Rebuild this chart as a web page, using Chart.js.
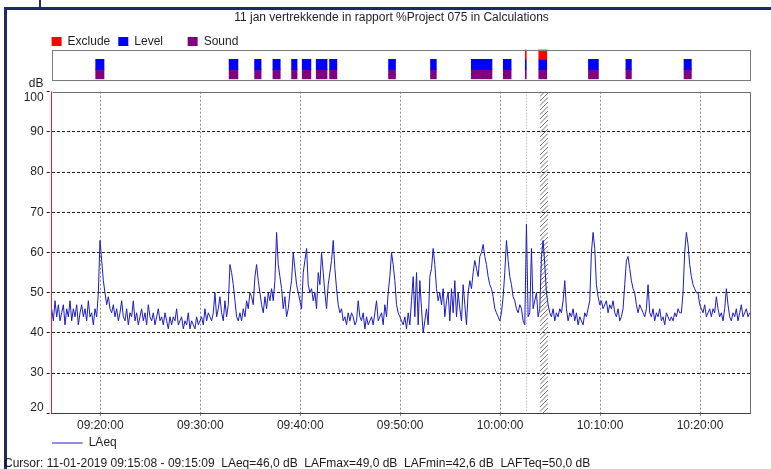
<!DOCTYPE html>
<html>
<head>
<meta charset="utf-8">
<script src="https://cdn.jsdelivr.net/npm/chart.js@4.4.0/dist/chart.umd.min.js"></script>
<style>
html,body{margin:0;padding:0;background:#fff;width:771px;height:469px;overflow:hidden;font-family:"Liberation Sans",Arial,sans-serif;}
#wrap{position:relative;width:771px;height:469px;}
canvas{position:absolute;left:0;top:0;}
#frameTop{position:absolute;left:4px;top:7px;width:767px;height:3px;background:#1d2b5e;}
#frameLeft{position:absolute;left:4px;top:7px;width:3px;height:462px;background:#1d2b5e;}
#frameTick{position:absolute;left:39px;top:0px;width:2px;height:8px;background:#1d2b5e;}
#cursor{position:absolute;left:4px;top:456px;font-size:12px;line-height:14px;color:#1a1a1a;white-space:pre;}
</style>
</head>
<body>
<div id="wrap">
  <div id="frameTop"></div>
  <div id="frameLeft"></div>
  <div id="frameTick"></div>
  <canvas id="band" width="771" height="469"></canvas>
  <canvas id="main" width="771" height="469"></canvas>
  <div id="cursor">Cursor: 11-01-2019 09:15:08 - 09:15:09  LAeq=46,0 dB  LAFmax=49,0 dB  LAFmin=42,6 dB  LAFTeq=50,0 dB</div>
</div>
<script>
// ---------- data ----------
const chartTitle = '11 jan vertrekkende in rapport %Project 075 in Calculations';
const startTime = '09:15:08';
const stepSeconds = 10;
const xMin = '09:15:08';
const xMax = '10:25:00';
const xTickLabels = ['09:20:00','09:30:00','09:40:00','09:50:00','10:00:00','10:10:00','10:20:00'];
const yTicks = [20,30,40,50,60,70,80,90,100];

// LAeq, one row per minute (xx:08, :18, :28, :38, :48, :58)
const laeq = [
  46,43,48,44,47,43, // 09:15
  45,47,42,46,44,48, // 09:16
  43,46,44,47,42,45, // 09:17
  47,44,46,43,48,44, // 09:18
  45,42,46,44,50,63, // 09:19
  58,53,50,47,49,46, // 09:20
  45,47,44,46,43,45, // 09:21
  48,44,43,46,42,45, // 09:22
  44,48,43,45,42,44, // 09:23
  46,43,45,42,47,44, // 09:24
  43,45,42,44,46,43, // 09:25
  44,42,45,43,41,44, // 09:26
  42,44,43,46,42,43, // 09:27
  44,41,43,42,45,41, // 09:28
  43,42,41,44,42,43, // 09:29
  44,42,46,43,45,44, // 09:30
  43,45,50,44,46,49, // 09:31
  45,43,48,44,47,57, // 09:32
  55,52,48,44,43,45, // 09:33
  43,46,44,48,46,50, // 09:34
  49,47,54,57,53,50, // 09:35
  47,45,49,46,50,48, // 09:36
  51,48,53,65,57,54, // 09:37
  51,46,49,44,46,50, // 09:38
  53,60,56,52,50,48, // 09:39
  46,55,58,61,52,50, // 09:40
  51,48,50,46,55,52, // 09:41
  60,55,50,46,52,55, // 09:42
  58,63,56,51,47,45, // 09:43
  46,43,44,42,45,43, // 09:44
  45,44,42,43,48,44, // 09:45
  43,45,41,44,42,43, // 09:46
  44,42,45,48,43,44, // 09:47
  45,42,47,44,50,54, // 09:48
  60,57,53,47,45,44, // 09:49
  43,42,44,41,45,42, // 09:50
  48,54,44,55,42,53, // 09:51
  46,40,43,46,42,54, // 09:52
  56,61,57,51,48,50, // 09:53
  47,51,44,48,50,43, // 09:54
  51,45,53,44,50,46, // 09:55
  43,52,47,42,50,53, // 09:56
  51,55,58,56,54,59, // 09:57
  60,62,59,57,54,52, // 09:58
  51,49,46,45,44,43, // 09:59
  45,49,55,63,58,54, // 10:00
  52,49,48,46,45,47, // 10:01
  46,43,42,67,44,45, // 10:02
  61,46,48,50,44,46, // 10:03
  59,63,57,50,47,45, // 10:04
  44,46,43,45,44,46, // 10:05
  45,48,53,46,43,45, // 10:06
  44,46,43,45,42,44, // 10:07
  43,42,45,44,46,48, // 10:08
  60,65,61,52,49,47, // 10:09
  48,46,47,48,45,47, // 10:10
  46,48,45,44,46,43, // 10:11
  44,46,52,58,59,56, // 10:12
  53,51,50,47,45,47, // 10:13
  46,45,44,46,52,45, // 10:14
  44,46,43,45,44,46, // 10:15
  43,44,42,45,44,43, // 10:16
  44,43,45,44,46,45, // 10:17
  45,50,60,65,62,57, // 10:18
  54,52,51,50,50,47, // 10:19
  46,45,47,44,45,46, // 10:20
  44,46,45,49,46,44, // 10:21
  45,43,46,51,47,44, // 10:22
  43,45,44,46,43,45, // 10:23
  47,44,45,46,44,45  // 10:24
];

const seriesLabels = ['Exclude','Level','Sound'];
const excludeIntervals = [['10:02:31','10:02:37'],['10:03:52','10:04:40']];
const levelIntervals = [
  ['09:19:32','09:20:22'],['09:32:53','09:33:46'],['09:35:26','09:36:05'],['09:37:16','09:38:00'],
  ['09:39:08','09:39:41'],['09:40:12','09:41:04'],['09:41:36','09:42:41'],['09:42:56','09:43:40'],
  ['09:48:50','09:49:32'],['09:53:02','09:53:37'],['09:57:07','09:59:11'],['10:00:19','10:01:06'],
  ['10:02:31','10:02:37'],['10:03:52','10:04:40'],['10:08:50','10:09:50'],['10:12:35','10:13:08'],
  ['10:18:24','10:19:08']
];
const soundIntervals = [
  ['09:19:32','09:20:22'],['09:32:53','09:33:46'],['09:35:26','09:36:05'],['09:37:16','09:38:00'],
  ['09:39:08','09:39:41'],['09:40:12','09:41:04'],['09:41:36','09:42:41'],['09:42:56','09:43:40'],
  ['09:48:50','09:49:32'],['09:53:02','09:53:37'],['09:57:07','09:59:11'],['10:00:19','10:01:06'],
  ['10:02:31','10:02:37'],['10:03:52','10:04:40'],['10:08:50','10:09:50'],['10:12:35','10:13:08'],
  ['10:18:24','10:19:08']
];
const hatchInterval = ['10:03:58','10:04:48'];
const cursorMark = '10:02:34';

// ---------- helpers ----------
const FONT = '"Liberation Sans", Arial, sans-serif';
const TXT = '#1e1e1e';
function sec(s){ const p = s.split(':').map(Number); return p[0]*3600 + p[1]*60 + p[2]; }
const t0 = sec(startTime);
const points = laeq.map((v,i) => ({x: t0 + i*stepSeconds, y: v}));
function bars(intervals, row){ return intervals.map(iv => ({x:[sec(iv[0]), sec(iv[1])], y: row})); }
const yMin = yTicks[0], yMax = yTicks[yTicks.length - 1];

// ---------- band chart ----------
const bandFrame = {
  id:'bandFrame',
  afterDatasetsDraw(chart){
    const {ctx, chartArea:a} = chart;
    ctx.save();
    ctx.strokeStyle = '#7a7a7a'; ctx.lineWidth = 1;
    ctx.strokeRect(Math.round(a.left)+0.5, Math.round(a.top)+0.5, Math.round(a.right-a.left), Math.round(a.bottom-a.top));
    ctx.restore();
  }
};
const barCommon = {borderWidth:0, grouped:false, barPercentage:1, categoryPercentage:1};
new Chart(document.getElementById('band'), {
  type:'bar',
  data:{
    labels: seriesLabels,
    datasets:[
      Object.assign({label:seriesLabels[0], data:bars(excludeIntervals, seriesLabels[0]), backgroundColor:'#ff0000'}, barCommon),
      Object.assign({label:seriesLabels[1], data:bars(levelIntervals, seriesLabels[1]), backgroundColor:'#0000ff'}, barCommon),
      Object.assign({label:seriesLabels[2], data:bars(soundIntervals, seriesLabels[2]), backgroundColor:'#800080'}, barCommon)
    ]
  },
  options:{
    indexAxis:'y', responsive:false, animation:false, devicePixelRatio:1,
    layout:{padding:{left:43.6, right:21, top:27.5, bottom:389.7}},
    plugins:{
      title:{display:false},
      tooltip:{enabled:false},
      legend:{
        display:true, position:'top', align:'start', maxHeight:22,
        labels:{
          boxWidth:10, boxHeight:9, padding:8, color:TXT, font:{family:FONT, size:12},
          generateLabels:(chart) => Chart.defaults.plugins.legend.labels.generateLabels(chart).map(it => {
            if (it.text === 'Level') it.text = 'Level\u00a0\u00a0\u00a0\u00a0\u00a0';
            return it;
          })
        }
      }
    },
    scales:{
      x:{type:'linear', display:false, min:sec(xMin), max:sec(xMax)},
      y:{type:'category', display:true, offset:true, ticks:{display:false}, grid:{display:false}, border:{display:false},
         afterFit:(s) => { s.width = 8.1; }}
    }
  },
  plugins:[bandFrame]
});

// ---------- main chart ----------
const mainDecor = {
  id:'mainDecor',
  beforeDatasetsDraw(chart){
    const {ctx, chartArea:a, scales:{x}} = chart;
    const x1 = x.getPixelForValue(sec(hatchInterval[0]));
    const x2 = x.getPixelForValue(sec(hatchInterval[1]));
    const w = x2 - x1;
    ctx.save();
    ctx.beginPath(); ctx.rect(x1, a.top, w, a.bottom - a.top); ctx.clip();
    ctx.strokeStyle = '#606060'; ctx.lineWidth = 0.9;
    ctx.beginPath();
    for (let yy = a.top - 4; yy < a.bottom + w + 8; yy += 4.5) { ctx.moveTo(x1, yy); ctx.lineTo(x2, yy - w); }
    ctx.stroke();
    ctx.restore();
    const cx = Math.round(x.getPixelForValue(sec(cursorMark))) + 0.5;
    ctx.save();
    ctx.strokeStyle = '#a0a0a0'; ctx.lineWidth = 1; ctx.setLineDash([1,2]);
    ctx.beginPath(); ctx.moveTo(cx, a.top); ctx.lineTo(cx, a.bottom); ctx.stroke();
    ctx.restore();
  },
  afterDraw(chart){
    const {ctx, chartArea:a} = chart;
    ctx.save();
    ctx.strokeStyle = '#6e6e6e'; ctx.lineWidth = 1;
    const ty = Math.round(a.top) + 0.5, rx = Math.round(a.right) + 0.5;
    ctx.beginPath(); ctx.moveTo(a.left + 1, ty); ctx.lineTo(rx, ty); ctx.lineTo(rx, a.bottom); ctx.stroke();
    // red cursor line at the left edge
    const lx = Math.round(a.left) - 0.5;
    ctx.strokeStyle = '#e02828';
    ctx.beginPath(); ctx.moveTo(lx, a.top); ctx.lineTo(lx, a.bottom); ctx.stroke();
    ctx.fillStyle = TXT; ctx.font = '12px ' + FONT; ctx.textAlign = 'right'; ctx.textBaseline = 'middle';
    ctx.fillText('dB', a.left - 8.2, a.top - 7.7);
    ctx.restore();
  }
};

new Chart(document.getElementById('main'), {
  type:'line',
  data:{datasets:[{
    label:'LAeq', data:points, borderColor:'#1c1cc4', backgroundColor:'#1c1cc4',
    borderWidth:1, pointRadius:0, tension:0, fill:false, yAxisID:'y'
  }]},
  options:{
    responsive:false, animation:false, devicePixelRatio:1,
    layout:{padding:{left:19.7, right:7.7, top:0, bottom:10}},
    plugins:{
      tooltip:{enabled:false},
      title:{display:true, text:chartTitle, color:TXT, font:{family:FONT, size:12, weight:'normal'}, padding:{top:10, bottom:67.3}},
      legend:{display:true, position:'bottom', align:'start', fullSize:false, maxHeight:22,
        labels:{usePointStyle:true, pointStyle:'line', pointStyleWidth:31, padding:0, color:TXT, font:{family:FONT, size:12}}}
    },
    scales:{
      x:{
        type:'linear', min:sec(xMin), max:sec(xMax),
        afterBuildTicks:(s) => { s.ticks = xTickLabels.map(l => ({value:sec(l)})); },
        ticks:{autoSkip:false, maxRotation:0, padding:0, color:TXT, font:{family:FONT, size:12},
               callback:(v, i) => xTickLabels[i]},
        grid:{color:'#8a8a8a', lineWidth:1, tickLength:5, tickColor:'#8a8a8a', tickBorderDash:[2,2]},
        border:{display:true, color:'#404040', dash:[2,2]},
        afterFit:(s) => { s.height = 23.7; }
      },
      y:{
        position:'left', min:yMin, max:yMax,
        afterBuildTicks:(s) => { s.ticks = yTicks.map(v => ({value:v})); },
        ticks:{padding:3, color:TXT, font:{family:FONT, size:12, lineHeight:0.95},
          // end labels sit just inside the plot, as in the original
          callback:(v) => v === yMax ? ['', String(v)] : (v === yMin ? [String(v), ''] : String(v))},
        grid:{
          color:(c) => (c.tick && (c.tick.value === yMin || c.tick.value === yMax)) ? 'rgba(0,0,0,0)' : '#1a1a1a',
          lineWidth:1, tickLength:5, tickColor:'#1a1a1a', tickBorderDash:[3,2]
        },
        border:{display:false, dash:[3,2]},
        afterFit:(s) => { s.width = 32; }
      },
      yRight:{
        position:'right', display:true, min:yMin, max:yMax,
        ticks:{display:false}, grid:{display:false}, border:{display:false},
        afterFit:(s) => { s.width = 13.3; }
      }
    }
  },
  plugins:[mainDecor]
});
</script>
</body>
</html>
